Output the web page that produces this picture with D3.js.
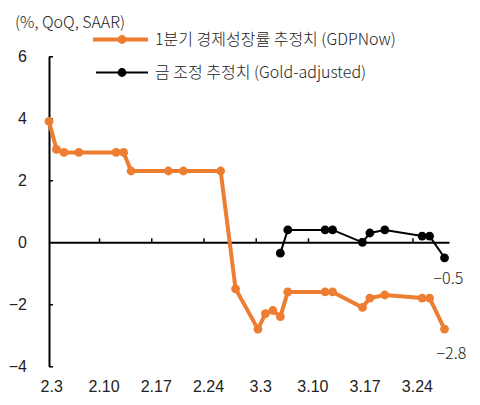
<!DOCTYPE html>
<html>
<head>
<meta charset="utf-8">
<script src="https://cdn.jsdelivr.net/npm/d3@7"></script>
<style>
  body { margin: 0; background: #fff; }
  svg { font-family: "Noto Sans CJK KR", "Noto Sans", sans-serif; font-weight: 300; }
  .axis text { font-size: 16px; fill: #222; }
</style>
</head>
<body>
<svg width="480" height="405"></svg>
<script>
// GDPNow Q1 estimate (orange) and gold-adjusted estimate (black), 2025
var gdpDates  = ["2.3","2.4","2.5","2.7","2.12","2.13","2.14","2.19","2.21","2.26","2.28",
                 "3.3","3.4","3.5","3.6","3.7","3.12","3.13","3.17","3.18","3.20","3.25","3.26","3.28"];
var gdpValues = [3.9, 3.0, 2.9, 2.9, 2.9, 2.9, 2.3, 2.3, 2.3, 2.3, -1.5,
                 -2.8, -2.3, -2.2, -2.4, -1.6, -1.6, -1.6, -2.1, -1.8, -1.7, -1.8, -1.8, -2.8];
var goldDates  = ["3.6","3.7","3.12","3.13","3.17","3.18","3.20","3.25","3.26","3.28"];
var goldValues = [-0.35, 0.4, 0.4, 0.4, 0.0, 0.3, 0.4, 0.2, 0.2, -0.5];
var tickLabels = ["2.3","2.10","2.17","2.24","3.3","3.10","3.17","3.24"];
var yTicks = [-4, -2, 0, 2, 4, 6];

var orange = "#ED7D31";

function parseMD(s) {
  var p = s.split(".");
  return new Date(2025, +p[0] - 1, +p[1]);
}
function addDays(d, n) { return new Date(d.getTime() + n * 864e5); }

var gdp = gdpDates.map(function(d, i) { return { date: parseMD(d), value: gdpValues[i] }; });
var gold = goldDates.map(function(d, i) { return { date: parseMD(d), value: goldValues[i] }; });

var svg = d3.select("svg");

var start = parseMD("2.3");
var x = d3.scaleTime()
    .domain([start, addDays(start, 53.6)])
    .range([49, 449]);
var y = d3.scaleLinear()
    .domain([-4, 6])
    .range([366.3, 56.3]);

// y axis, ticks pointing inward
var yAxis = svg.append("g")
    .attr("class", "axis")
    .attr("transform", "translate(" + x.range()[0] + ",0)")
    .call(d3.axisLeft(y).tickValues(yTicks).tickSizeInner(-4).tickSizeOuter(0).tickPadding(22));
yAxis.select(".domain").attr("stroke", "#000").attr("stroke-width", 2);
yAxis.selectAll(".tick line").attr("stroke", "#000").attr("stroke-width", 1.5);
yAxis.selectAll(".tick").filter(function(d) { return d === 0; }).select("line").remove();

// x axis on the zero line, weekly ticks (sit slightly before the date)
var tickDates = tickLabels.map(function(t) { return addDays(parseMD(t), -0.3); });
var xAxis = svg.append("g")
    .attr("class", "axis")
    .attr("transform", "translate(0," + y(0) + ")")
    .call(d3.axisBottom(x).tickValues(tickDates.slice(1)).tickSizeInner(-4).tickSizeOuter(0).tickFormat(""));
xAxis.select(".domain").attr("stroke", "#000").attr("stroke-width", 2);
xAxis.selectAll(".tick line").attr("stroke", "#000").attr("stroke-width", 1.5);

// x labels at the bottom
var labelDates = tickLabels.map(function(t) { return addDays(parseMD(t), 0.3); });
var xLab = svg.append("g")
    .attr("class", "axis")
    .attr("transform", "translate(0," + (y(-4) + 14) + ")")
    .call(d3.axisBottom(x).tickValues(labelDates).tickSize(0).tickPadding(0)
      .tickFormat(function(d, i) { return tickLabels[i]; }));
xLab.select(".domain").remove();
xLab.selectAll("text").attr("dy", "0.71em");

var line = d3.line()
    .x(function(d) { return x(d.date); })
    .y(function(d) { return y(d.value); });

// orange series
svg.append("path")
    .datum(gdp)
    .attr("fill", "none")
    .attr("stroke", orange)
    .attr("stroke-width", 4)
    .attr("stroke-linejoin", "round")
    .attr("d", line);
svg.append("g").selectAll("circle")
    .data(gdp).enter().append("circle")
    .attr("cx", function(d) { return x(d.date); })
    .attr("cy", function(d) { return y(d.value); })
    .attr("r", 4.4)
    .attr("fill", orange);

// black series
svg.append("path")
    .datum(gold)
    .attr("fill", "none")
    .attr("stroke", "#000")
    .attr("stroke-width", 2)
    .attr("d", line);
svg.append("g").selectAll("circle")
    .data(gold).enter().append("circle")
    .attr("cx", function(d) { return x(d.date); })
    .attr("cy", function(d) { return y(d.value); })
    .attr("r", 4.4)
    .attr("fill", "#000");

// end value labels
var fmt = d3.format(".1f");
[gold[gold.length - 1], gdp[gdp.length - 1]].forEach(function(d, i) {
  svg.append("text")
    .attr("x", x(d.date) + (i === 0 ? -11 : -8))
    .attr("y", y(d.value) + (i === 0 ? 21 : 24))
    .attr("dy", "0.35em")
    .attr("font-size", 16)
    .attr("fill", "#222")
    .text(fmt(d.value));
});

// unit
svg.append("text")
    .attr("x", 15).attr("y", 22).attr("dy", "0.35em")
    .attr("font-size", 16).attr("fill", "#222")
    .text("(%, QoQ, SAAR)");

// legend
var legend = [
  { name: "1분기 경제성장률 추정치 (GDPNow)", color: orange, w: 4, x0: 93, y: 39.5 },
  { name: "금 조정 추정치 (Gold-adjusted)", color: "#000", w: 2, x0: 96, y: 72.5 }
];
var lg = svg.append("g").selectAll("g").data(legend).enter().append("g");
lg.append("line")
    .attr("x1", function(d) { return d.x0; }).attr("x2", 148)
    .attr("y1", function(d) { return d.y; }).attr("y2", function(d) { return d.y; })
    .attr("stroke", function(d) { return d.color; })
    .attr("stroke-width", function(d) { return d.w; });
lg.append("circle")
    .attr("cx", 122).attr("cy", function(d) { return d.y; })
    .attr("r", 4.4).attr("fill", function(d) { return d.color; });
lg.append("text")
    .attr("x", 155).attr("y", function(d) { return d.y; }).attr("dy", "0.35em")
    .attr("font-size", 16).attr("fill", "#222")
    .text(function(d) { return d.name; });
</script>
</body>
</html>
